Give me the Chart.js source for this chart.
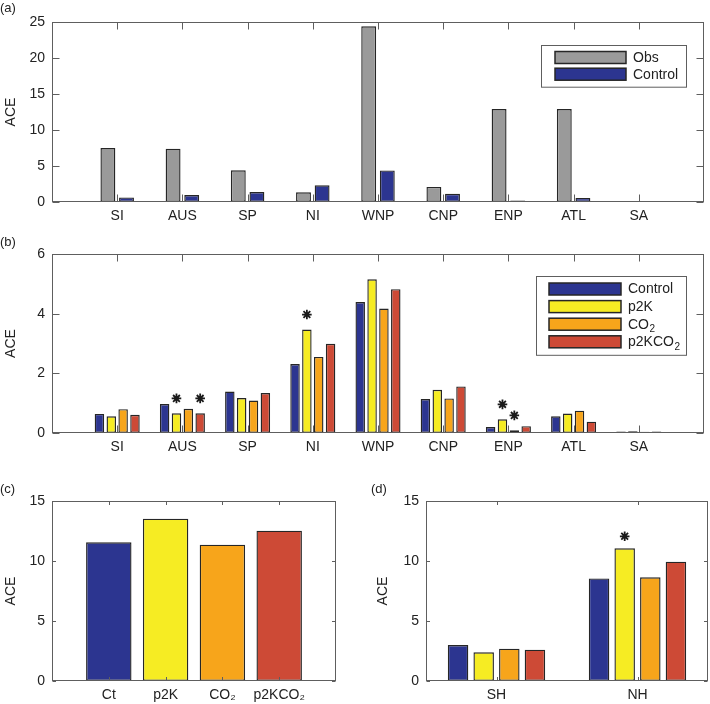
<!DOCTYPE html>
<html>
<head>
<meta charset="utf-8">
<script src="https://cdn.jsdelivr.net/npm/chart.js@4.4.1/dist/chart.umd.min.js"></script>
<style>
  html, body { margin: 0; padding: 0; background: #fff; }
  #wrap { position: relative; width: 710px; height: 704px; overflow: hidden; }
  canvas { position: absolute; }
  .tag { position: absolute; font: 13px "Liberation Sans", Arial, sans-serif; color: #222; line-height: 15px; }
</style>
</head>
<body>
<div id="wrap">
  <canvas id="chart-a" width="710" height="230" style="left:0;top:0;width:710px;height:230px"></canvas>
  <canvas id="chart-b" width="710" height="225" style="left:0;top:230px;width:710px;height:225px"></canvas>
  <canvas id="chart-c" width="355" height="249" style="left:0;top:455px;width:355px;height:249px"></canvas>
  <canvas id="chart-d" width="355" height="249" style="left:355px;top:455px;width:355px;height:249px"></canvas>
  <div class="tag" style="left:0;top:0">(a)</div>
  <div class="tag" style="left:0;top:234px">(b)</div>
  <div class="tag" style="left:0;top:481px">(c)</div>
  <div class="tag" style="left:371px;top:481px">(d)</div>
</div>
<script>
// --- data ---
const REGIONS = ['SI', 'AUS', 'SP', 'NI', 'WNP', 'CNP', 'ENP', 'ATL', 'SA'];
const OBS = [7.5, 7.4, 4.4, 1.35, 24.4, 2.1, 12.9, 12.9, 0];
const CONTROL = [0.64, 0.97, 1.39, 2.31, 4.39, 1.14, 0.2, 0.56, 0.05];
const P2K = [0.56, 0.66, 1.17, 3.47, 5.15, 1.45, 0.46, 0.65, 0.06];
const CO2 = [0.8, 0.81, 1.09, 2.55, 4.17, 1.16, 0.09, 0.75, 0.04];
const P2KCO2 = [0.61, 0.66, 1.34, 2.99, 4.82, 1.56, 0.23, 0.38, 0.05];
// significance markers (1 = asterisk above bar)
const SIG_P2K = [0, 1, 0, 1, 0, 0, 1, 0, 0];
const SIG_CO2 = [0, 0, 0, 0, 0, 0, 1, 0, 0];
const SIG_P2KCO2 = [0, 1, 0, 0, 0, 0, 0, 0, 0];

const RUNS = ['Ct', 'p2K', 'CO₂', 'p2KCO₂'];
const GLOBAL_ACE = [11.56, 13.53, 11.36, 12.53];

const HEMIS = ['SH', 'NH'];
const HEMI_CONTROL = [3.0, 8.55];
const HEMI_P2K = [2.39, 11.06];
const HEMI_CO2 = [2.69, 8.64];
const HEMI_P2KCO2 = [2.61, 9.94];
const HEMI_SIG_P2K = [0, 1];

const SERIES_A = ['Obs', 'Control'];
const SERIES_B = ['Control', 'p2K', 'CO₂', 'p2KCO₂'];

// --- styles ---
const C_OBS = '#9a9a9a';
const C_CTRL = '#2c3590';
const C_P2K = '#f6ec23';
const C_CO2 = '#f7a51b';
const C_P2KCO2 = '#cd4a36';
const EDGE = '#262626';
const AXIS = '#5e5e5e';
const TXT = '#222';
const FAMILY = '"Liberation Sans", Arial, Helvetica, sans-serif';
const FONT = { family: FAMILY, size: 14 };

// pad categories so the x range runs from 0 to n+1 like the original axes
const pad = (arr, fill = null) => [fill, ...arr, fill];

function bar(label, data, color, groupPct, sig) {
  return {
    label, data,
    backgroundColor: color,
    borderColor: EDGE,
    borderWidth: 1.4,
    borderSkipped: false,
    categoryPercentage: groupPct,
    barPercentage: 0.8,
    sig: sig || null,
  };
}

// draws text with '₂' rendered as a real subscript
function drawRich(ctx, text, x, y) {
  const parts = text.split('₂');
  let cx = x;
  parts.forEach((p, i) => {
    ctx.font = `14px ${FAMILY}`;
    ctx.fillText(p, cx, y);
    cx += ctx.measureText(p).width;
    if (i < parts.length - 1) {
      ctx.font = `10px ${FAMILY}`;
      ctx.fillText('2', cx + 0.5, y + 4.5);
      cx += ctx.measureText('2').width + 0.5;
    }
  });
}

// box + inward ticks, MATLAB style
const matlabAxes = {
  id: 'matlabAxes',
  afterDatasetsDraw(chart, args, opts) {
    const { ctx, chartArea: a, scales: { x, y } } = chart;
    const len = opts.tickLen || 6;
    const L = Math.round(a.left) + 0.5, R = Math.round(a.right) - 0.5;
    const T = Math.round(a.top) + 0.5, B = Math.round(a.bottom) - 0.5;
    ctx.save();
    ctx.strokeStyle = AXIS;
    ctx.lineWidth = 1;
    ctx.beginPath();
    y.ticks.forEach((t) => {
      const py = Math.round(y.getPixelForValue(t.value)) + 0.5;
      ctx.moveTo(L, py); ctx.lineTo(L + len, py);
      ctx.moveTo(R, py); ctx.lineTo(R - len, py);
    });
    x.ticks.forEach((t) => {
      if (!chart.data.labels[t.value]) return;
      const px = Math.round(x.getPixelForValue(t.value)) + 0.5;
      ctx.moveTo(px, T); ctx.lineTo(px, T + len);
      ctx.moveTo(px, B); ctx.lineTo(px, B - len);
    });
    ctx.stroke();
    ctx.strokeRect(L, T, R - L, B - T);
    ctx.restore();
  },
};

// asterisks above significant bars
const stars = {
  id: 'stars',
  afterDatasetsDraw(chart, args, opts) {
    if (!opts.offset) return;
    const { ctx, scales: { y } } = chart;
    ctx.save();
    ctx.strokeStyle = '#1a1a1a';
    ctx.lineWidth = 1.8;
    chart.data.datasets.forEach((ds, di) => {
      if (!ds.sig) return;
      const meta = chart.getDatasetMeta(di);
      ds.sig.forEach((s, j) => {
        if (!s) return;
        const px = meta.data[j].x;
        const py = y.getPixelForValue(ds.data[j] + opts.offset);
        const r = 4.8;
        ctx.beginPath();
        for (let k = 0; k < 4; k++) {
          const ang = k * Math.PI / 4;
          ctx.moveTo(px - r * Math.sin(ang), py - r * Math.cos(ang));
          ctx.lineTo(px + r * Math.sin(ang), py + r * Math.cos(ang));
        }
        ctx.stroke();
      });
    });
    ctx.restore();
  },
};

// boxed legend with long patches, placed inside the axes
const boxLegend = {
  id: 'boxLegend',
  afterDraw(chart, args, opts) {
    if (!opts.left) return;
    const { ctx } = chart;
    const items = chart.data.datasets;
    const h = opts.padY * 2 + items.length * opts.rowH - (opts.rowH - opts.patchH);
    ctx.save();
    ctx.fillStyle = '#fff';
    ctx.fillRect(opts.left, opts.top, opts.width, h);
    ctx.strokeStyle = AXIS;
    ctx.lineWidth = 1;
    ctx.strokeRect(opts.left + 0.5, opts.top + 0.5, opts.width, h);
    items.forEach((ds, i) => {
      const py = opts.top + opts.padY + i * opts.rowH;
      const px = opts.left + opts.padX;
      ctx.fillStyle = ds.backgroundColor;
      ctx.fillRect(px, py, opts.patchW, opts.patchH);
      ctx.strokeStyle = EDGE;
      ctx.lineWidth = 1.5;
      ctx.strokeRect(px, py, opts.patchW, opts.patchH);
      ctx.fillStyle = TXT;
      ctx.textBaseline = 'middle';
      ctx.textAlign = 'left';
      drawRich(ctx, ds.label, px + opts.patchW + 7, py + opts.patchH / 2 + 0.5);
    });
    ctx.restore();
  },
};

function axesOptions(o) {
  return {
    responsive: false,
    animation: false,
    devicePixelRatio: 1,
    layout: { padding: o.pad },
    plugins: {
      legend: { display: false },
      tooltip: { enabled: false },
      matlabAxes: { tickLen: o.tickLen },
      boxLegend: o.legend || {},
      stars: o.stars || {},
    },
    scales: {
      x: {
        type: 'category',
        offset: o.offset,
        grid: { display: false, drawTicks: false },
        border: { display: false },
        ticks: { color: TXT, font: FONT, padding: 6, autoSkip: false, maxRotation: 0 },
        afterFit(s) { s.height = o.xHeight; },
      },
      y: {
        min: 0,
        max: o.ymax,
        grid: { display: false, drawTicks: false },
        border: { display: false },
        ticks: { stepSize: o.step, color: TXT, font: FONT, padding: 7 },
        title: { display: true, text: 'ACE', color: TXT, font: FONT, padding: { top: 3, bottom: 3 } },
        afterFit(s) { s.width = o.yWidth; },
      },
    },
  };
}

const plugins = [matlabAxes, stars, boxLegend];

// (a) observed vs control
new Chart(document.getElementById('chart-a'), {
  type: 'bar',
  data: {
    labels: pad(REGIONS, ''),
    datasets: [
      bar(SERIES_A[0], pad(OBS), C_OBS, 0.571),
      bar(SERIES_A[1], pad(CONTROL), C_CTRL, 0.571),
    ],
  },
  options: axesOptions({
    pad: { top: 22, right: 2, left: 0, bottom: 0 },
    yWidth: 52, xHeight: 28, ymax: 25, step: 5, offset: false, tickLen: 7,
    legend: { left: 541, top: 45, width: 145, padX: 14, padY: 6.5, patchW: 71, patchH: 12, rowH: 16.7 },
  }),
  plugins,
});

// (b) regional ACE for the four experiments
new Chart(document.getElementById('chart-b'), {
  type: 'bar',
  data: {
    labels: pad(REGIONS, ''),
    datasets: [
      bar(SERIES_B[0], pad(CONTROL), C_CTRL, 0.727),
      bar(SERIES_B[1], pad(P2K), C_P2K, 0.727, pad(SIG_P2K, 0)),
      bar(SERIES_B[2], pad(CO2), C_CO2, 0.727, pad(SIG_CO2, 0)),
      bar(SERIES_B[3], pad(P2KCO2), C_P2KCO2, 0.727, pad(SIG_P2KCO2, 0)),
    ],
  },
  options: axesOptions({
    pad: { top: 24, right: 2, left: 0, bottom: 0 },
    yWidth: 52, xHeight: 22, ymax: 6, step: 2, offset: false, tickLen: 7,
    stars: { offset: 0.5 },
    legend: { left: 536, top: 46, width: 150, padX: 13, padY: 7, patchW: 72, patchH: 12, rowH: 17.6 },
  }),
  plugins,
});

// (c) global ACE
new Chart(document.getElementById('chart-c'), {
  type: 'bar',
  data: {
    labels: pad(RUNS, ''),
    datasets: [
      bar('global', pad(GLOBAL_ACE), pad([C_CTRL, C_P2K, C_CO2, C_P2KCO2], '#fff'), 1),
    ],
  },
  options: axesOptions({
    pad: { top: 46, right: 19, left: 0, bottom: 0 },
    yWidth: 52, xHeight: 23, ymax: 15, step: 5, offset: false, tickLen: 3.5,
  }),
  plugins,
});

// (d) hemispheric ACE
new Chart(document.getElementById('chart-d'), {
  type: 'bar',
  data: {
    labels: HEMIS,
    datasets: [
      bar(SERIES_B[0], HEMI_CONTROL, C_CTRL, 0.727),
      bar(SERIES_B[1], HEMI_P2K, C_P2K, 0.727, HEMI_SIG_P2K),
      bar(SERIES_B[2], HEMI_CO2, C_CO2, 0.727),
      bar(SERIES_B[3], HEMI_P2KCO2, C_P2KCO2, 0.727),
    ],
  },
  options: axesOptions({
    pad: { top: 46, right: 2, left: 17, bottom: 0 },
    yWidth: 54, xHeight: 23, ymax: 15, step: 5, offset: true, tickLen: 3.5,
    stars: { offset: 1 },
  }),
  plugins,
});
</script>
</body>
</html>
